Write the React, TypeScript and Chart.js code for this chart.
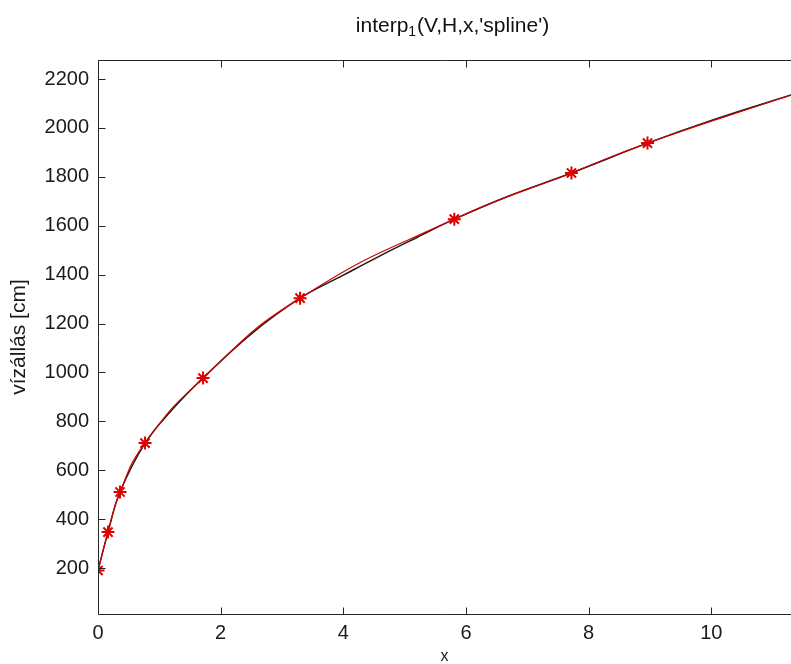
import React, { useEffect, useRef } from "react";
import { Chart, registerables } from "chart.js";

Chart.register(...registerables);

// Measured stations (red stars)
const starX = [0, 0.163, 0.359, 0.767, 1.713, 3.295, 5.81, 7.72, 8.96, 11.3];
const starY = [190, 347, 511, 711, 977, 1304, 1627, 1816, 1938, 2135];
// Reference curve (black)
const lineX = [0, 0.163, 0.359, 0.767, 1.2, 1.713, 2.5, 3.295, 4.0, 4.6, 5.2, 5.81, 6.7, 7.72, 8.96, 10.0, 11.3];
const lineY = [190, 347, 511, 711, 845, 977, 1158, 1304, 1398, 1477, 1552, 1627, 1722, 1816, 1938, 2031, 2135];

const xTicks = [0, 2, 4, 6, 8, 10];
const yTicks = [200, 400, 600, 800, 1000, 1200, 1400, 1600, 1800, 2000, 2200];

const titleMain = "interp";
const titleSub = "1";
const titleRest = "(V,H,x,'spline')";
const yLabel = "vízállás [cm]";
const xLabel = "x";

const FONT = "'Liberation Sans', Arial, sans-serif";

const framePlugin = {
  id: "frame",
  afterDatasetsDraw(chart: any) {
    const { ctx, chartArea: a, scales } = chart;
    const xs = scales.x;
    const ys = scales.y;
    ctx.save();
    ctx.strokeStyle = "#262626";
    ctx.lineWidth = 1;
    const L = Math.round(a.left) + 0.5;
    const T = Math.round(a.top) + 0.5;
    const B = Math.round(a.bottom) + 0.5;
    const R = a.right + 2;
    ctx.beginPath();
    ctx.moveTo(R, T);
    ctx.lineTo(L, T);
    ctx.lineTo(L, B);
    ctx.lineTo(R, B);
    ctx.stroke();
    const tl = 7;
    ctx.beginPath();
    for (const v of xTicks) {
      const px = Math.round(xs.getPixelForValue(v)) + 0.5;
      ctx.moveTo(px, B);
      ctx.lineTo(px, B - tl);
      ctx.moveTo(px, T);
      ctx.lineTo(px, T + tl);
    }
    for (const v of yTicks) {
      const py = Math.round(ys.getPixelForValue(v)) + 0.5;
      ctx.moveTo(L, py);
      ctx.lineTo(L + tl, py);
    }
    ctx.stroke();
    ctx.restore();
  },
  afterDraw(chart: any) {
    const { ctx, chartArea: a } = chart;
    ctx.save();
    ctx.fillStyle = "#111";
    ctx.textBaseline = "alphabetic";
    ctx.textAlign = "left";
    const mainFont = `21px ${FONT}`;
    const subFont = `14px ${FONT}`;
    ctx.font = mainFont;
    const w1 = ctx.measureText(titleMain).width;
    const w3 = ctx.measureText(titleRest).width;
    ctx.font = subFont;
    const w2 = ctx.measureText(titleSub).width + 1;
    const total = w1 + w2 + w3;
    const cx = (a.left + a.right) / 2 + 8;
    const x0 = cx - total / 2;
    const base = 32;
    ctx.font = mainFont;
    ctx.fillText(titleMain, x0, base);
    ctx.font = subFont;
    ctx.fillText(titleSub, x0 + w1, base + 4);
    ctx.font = mainFont;
    ctx.fillText(titleRest, x0 + w1 + w2, base);
    ctx.restore();
  },
};

export default function App() {
  const ref = useRef<HTMLCanvasElement | null>(null);
  useEffect(() => {
    document.body.style.margin = "0";
    if (!ref.current) return;
    const chart = new Chart(ref.current, {
      type: "line",
      data: {
        datasets: [
          {
            label: "spline",
            data: starX.map((x, i) => ({ x, y: starY[i] })),
            borderColor: "#d40000",
            backgroundColor: "#d40000",
            borderWidth: 1.2,
            tension: 0.5,
            pointStyle: "star",
            pointRadius: starX.map((_, i) => (i === starX.length - 1 ? 0 : 6.5)),
            pointBorderColor: "#e00000",
            pointBorderWidth: 2,
            order: 0,
          },
          {
            label: "data",
            data: lineX.map((x, i) => ({ x, y: lineY[i] })),
            borderColor: "#1a1a1a",
            borderWidth: 1.5,
            tension: 0.4,
            pointRadius: 0,
            order: 1,
          },
        ],
      },
      options: {
        animation: false,
        responsive: false,
        maintainAspectRatio: false,
        layout: { autoPadding: false, padding: { top: 60, left: 0, right: 0, bottom: 0 } },
        plugins: {
          legend: { display: false },
          tooltip: { enabled: false },
          title: { display: false },
        },
        scales: {
          x: {
            type: "linear",
            min: 0,
            max: 11.3,
            afterBuildTicks: (s: any) => {
              s.ticks = xTicks.map((v) => ({ value: v }));
            },
            afterFit: (s: any) => {
              s.height = 50;
              s.paddingLeft = 0;
              s.paddingRight = 0;
            },
            grid: { display: false, drawTicks: false },
            border: { display: false },
            ticks: {
              padding: 7,
              color: "#1a1a1a",
              font: { family: FONT, size: 20 },
              maxRotation: 0,
              autoSkip: false,
              callback: (v: any) => String(v),
            },
            title: {
              display: true,
              text: xLabel,
              color: "#1a1a1a",
              font: { family: FONT, size: 16, lineHeight: 1 },
              padding: { top: 0, bottom: -1 },
            },
          },
          y: {
            type: "linear",
            min: 12,
            max: 2278,
            afterBuildTicks: (s: any) => {
              s.ticks = yTicks.map((v) => ({ value: v }));
            },
            afterFit: (s: any) => {
              s.width = 98;
              s.paddingTop = 0;
              s.paddingBottom = 0;
            },
            grid: { display: false, drawTicks: false },
            border: { display: false },
            ticks: {
              padding: 9,
              color: "#1a1a1a",
              font: { family: FONT, size: 20 },
              autoSkip: false,
              callback: (v: any) => String(v),
            },
            title: {
              display: true,
              text: yLabel,
              color: "#1a1a1a",
              font: { family: FONT, size: 21, lineHeight: 1.2 },
              padding: { top: 7, bottom: 0 },
            },
          },
        },
      },
      plugins: [framePlugin],
    });
    return () => chart.destroy();
  }, []);
  return (
    <div style={{ width: 791, height: 664, background: "#fff" }}>
      <canvas ref={ref} width={791} height={664} style={{ display: "block" }} />
    </div>
  );
}
